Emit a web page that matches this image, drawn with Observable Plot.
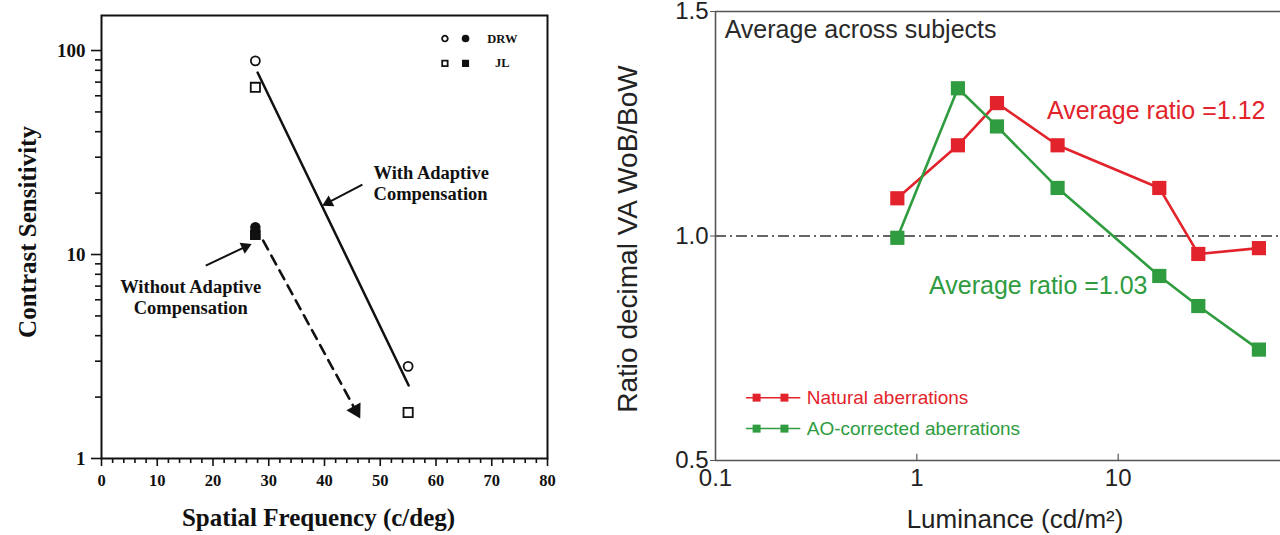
<!DOCTYPE html>
<html><head><meta charset="utf-8">
<script src="https://cdn.jsdelivr.net/npm/d3@7"></script>
<script src="https://cdn.jsdelivr.net/npm/@observablehq/plot@0.6"></script>
<style>
html,body{margin:0;padding:0;background:#fff;}
#wrap{display:flex;width:1280px;height:535px;overflow:hidden;background:#fff;}
#wrap svg{display:block;flex:none;overflow:visible;}
</style></head><body><div id="wrap"></div>
<script>
// ---------- Left panel: contrast sensitivity ----------
const spatialFreqOpen = [27.6, 55];
const drwOpen = [89, 2.83];
const jlOpen = [66, 1.68];
const spatialFreqFilled = [27.6];
const drwFilled = [13.6];
const jlFilled = [12.5];
const withFitX = [28, 55.1];
const withFitY = [78, 2.28];
const withoutFitX = [29, 45.6];
const withoutFitY = [11.7, 1.72];
const withoutHeadAngle = [151];
const withText = ["With Adaptive\nCompensation"];
const withTextX = [48.8];
const withTextY = [22.5];
const withoutText = ["Without Adaptive\nCompensation"];
const withoutTextX = [16.0];
const withoutTextY = [6.2];
const pointerX1 = [46.8, 18.7];
const pointerY1 = [22.0, 8.83];
const pointerX2 = [40.7, 25.8];
const pointerY2 = [18.0, 10.9];
const pointerAngle = [242, 65];
const leftLegendLabels = ["DRW", "JL"];
const leftLegendOpenX = [61.6];
const leftLegendFilledX = [65.3];
const leftLegendTextX = [71.9];
const leftLegendY = [114.5, 86.5];
const leftXTicks = [0, 10, 20, 30, 40, 50, 60, 70, 80];
const leftXMinor = [2,4,6,8,12,14,16,18,22,24,26,28,32,34,36,38,42,44,46,48,52,54,56,58,62,64,66,68,72,74,76,78];
const leftYTicks = [1, 10, 100];
const leftYMinor = [2,3,4,5,6,7,8,9,20,30,40,50,60,70,80,90];

// ---------- Right panel: ratio vs luminance ----------
const luminance = [0.8, 1.6, 2.5, 5.0, 16, 25, 50];
const naturalRatio = [1.084, 1.202, 1.296, 1.202, 1.107, 0.96, 0.973];
const aoRatio = [0.996, 1.329, 1.244, 1.107, 0.911, 0.844, 0.747];
const rightXTicks = [0.1, 1, 10];
const rightYTicks = [0.5, 1.0, 1.5];
const seriesNames = ["Natural aberrations", "AO-corrected aberrations"];
const avgText = ["Average ratio =1.12", "Average ratio =1.03"];
const avgX = [4.43, 1.15];
const avgY = [1.278, 0.889];
const titleText = ["Average across subjects"];
const titleX = [0.111];
const titleY = [1.458];
const legendLineX = [0.1426, 0.262];
const legendDotX = [0.16, 0.22];
const legendTextX = [0.284];
const legendRowY = [0.64, 0.571];

const RED = "#e2232b";
const GREEN = "#2e9c3f";
const INK = "#111";

const serif = "'Liberation Serif', 'DejaVu Serif', serif";
const sans = "'Liberation Sans', Arial, sans-serif";

const left = Plot.plot({
  width: 580, height: 535,
  marginLeft: 101, marginRight: 33, marginTop: 15, marginBottom: 77,
  style: {fontFamily: serif, fontWeight: "bold", fontSize: "16px", color: INK, background: "#fff"},
  x: {domain: [0, 80]},
  y: {type: "log", domain: [1, 148.5]},
  marks: [
    Plot.axisX({ticks: leftXMinor, tickSize: 5, tickFormat: () => "", strokeWidth: 1.6, label: null}),
    Plot.axisX({ticks: leftXTicks, tickSize: 8, tickFormat: () => "", strokeWidth: 1.6, label: null}),
    Plot.axisY({ticks: leftYMinor, tickSize: 6, tickFormat: () => "", strokeWidth: 1.6, label: null}),
    Plot.axisY({ticks: leftYTicks, tickSize: 10, tickFormat: () => "", strokeWidth: 1.6, label: null}),
    // tick labels
    Plot.text(leftXTicks, {x: d => d, frameAnchor: "bottom", lineAnchor: "middle", textAnchor: "middle", dy: 22, text: d => String(d), fontSize: 16.5, fontWeight: "bold", fill: INK}),
    Plot.text(leftYTicks, {y: d => d, frameAnchor: "left", lineAnchor: "middle", textAnchor: "end", dx: -16, text: d => String(d), fontSize: 19, fontWeight: "bold", fill: INK}),
    Plot.frame({stroke: INK, strokeWidth: 2}),
    // fitted lines
    Plot.line(withFitY, {x: withFitX, y: withFitY, stroke: INK, strokeWidth: 2.5}),
    Plot.line(withoutFitY, {x: withoutFitX, y: withoutFitY, stroke: INK, strokeWidth: 2.6, strokeDasharray: "10,7"}),
    Plot.dot(withoutHeadAngle, {x: [withoutFitX[1]], y: [withoutFitY[1]], symbol: "triangle", r: 6, rotate: withoutHeadAngle, fill: INK, stroke: "none"}),
    // data points
    Plot.dot(drwOpen, {x: spatialFreqOpen, y: drwOpen, r: 4.5, symbol: "circle", stroke: INK, strokeWidth: 1.8, fill: "#fff"}),
    Plot.dot(jlOpen, {x: spatialFreqOpen, y: jlOpen, r: 5.2, symbol: "square", stroke: INK, strokeWidth: 1.8, fill: "#fff"}),
    Plot.dot(jlFilled, {x: spatialFreqFilled, y: jlFilled, r: 5.2, symbol: "square", fill: INK, stroke: INK}),
    Plot.dot(drwFilled, {x: spatialFreqFilled, y: drwFilled, r: 4.5, symbol: "circle", fill: INK, stroke: INK}),
    // annotations
    Plot.link(pointerX1, {x1: pointerX1, y1: pointerY1, x2: pointerX2, y2: pointerY2, stroke: INK, strokeWidth: 2}),
    Plot.dot(pointerAngle, {x: pointerX2, y: pointerY2, symbol: "triangle", r: 4.5, rotate: pointerAngle, fill: INK, stroke: "none"}),
    Plot.text(withText, {x: withTextX, y: withTextY, text: d => d, textAnchor: "start", fontSize: 18.5, fontWeight: "bold", fill: INK, lineHeight: 1.15}),
    Plot.text(withoutText, {x: withoutTextX, y: withoutTextY, text: d => d, textAnchor: "middle", fontSize: 18.5, fontWeight: "bold", fill: INK, lineHeight: 1.15}),
    // legend
    Plot.dot(leftLegendY, {x: () => leftLegendOpenX[0], y: leftLegendY, symbol: (d, i) => i === 0 ? "circle" : "square", r: (d, i) => i === 0 ? 4.3 : 5, stroke: INK, strokeWidth: 1.8, fill: "#fff"}),
    Plot.dot(leftLegendY, {x: () => leftLegendFilledX[0], y: leftLegendY, symbol: (d, i) => i === 0 ? "circle" : "square", r: (d, i) => i === 0 ? 5 : 5.2, fill: INK, stroke: INK}),
    Plot.text(leftLegendLabels, {x: () => leftLegendTextX[0], y: (d, i) => leftLegendY[i], text: d => d, fontSize: 12.5, fontWeight: "bold", fill: INK}),
    // axis titles
    Plot.text(["Contrast Sensitivity"], {frameAnchor: "left", textAnchor: "middle", lineAnchor: "middle", dx: -74, dy: -5, rotate: -90, fontSize: 25, fontWeight: "bold", fill: INK}),
    Plot.text(["Spatial Frequency (c/deg)"], {frameAnchor: "bottom", textAnchor: "middle", lineAnchor: "middle", dx: -6, dy: 59, fontSize: 25, fontWeight: "bold", fill: INK})
  ]
});

const rightSeries = [
  ...luminance.map((x, i) => ({series: seriesNames[0], x, y: naturalRatio[i]})),
  ...luminance.map((x, i) => ({series: seriesNames[1], x, y: aoRatio[i]}))
];
const colorOf = s => s === seriesNames[0] ? RED : GREEN;

const right = Plot.plot({
  width: 700, height: 535,
  marginLeft: 135, marginRight: 0, marginTop: 11, marginBottom: 75,
  style: {fontFamily: sans, fontSize: "24px", color: "#222", background: "#fff"},
  x: {type: "log", domain: [0.1, 64]},
  y: {domain: [0.5, 1.5]},
  marks: [
    Plot.ruleY([1], {stroke: "#333", strokeWidth: 1.3, strokeDasharray: "11,4,2,4"}),
    Plot.ruleY([0.5, 1.5], {stroke: "#555", strokeWidth: 1.6}),
    Plot.ruleX([0.1], {stroke: "#555", strokeWidth: 1.6}),
    Plot.ruleX([1, 10], {y1: 0.5, y2: 0.514, stroke: "#555", strokeWidth: 1.2}),
    Plot.axisX({ticks: rightXTicks, tickSize: 0, tickPadding: 8, tickFormat: d => String(d), label: null}),
    Plot.axisY({ticks: rightYTicks, tickSize: 5, tickPadding: 2, tickFormat: d3.format(".1f"), label: null, stroke: "#555"}),
    Plot.line(rightSeries, {x: "x", y: "y", z: "series", stroke: d => colorOf(d.series), strokeWidth: 2.6}),
    Plot.dot(rightSeries, {x: "x", y: "y", symbol: "square", r: 8, fill: d => colorOf(d.series), stroke: "none"}),
    Plot.text(titleText, {x: titleX, y: titleY, text: d => d, textAnchor: "start", fontSize: 25, fill: "#2a2a2a"}),
    Plot.text(avgText, {x: avgX, y: avgY, text: d => d, textAnchor: "start", fontSize: 25, fill: (d, i) => i === 0 ? RED : GREEN}),
    // legend
    Plot.line(legendLineX, {x: legendLineX, y: () => legendRowY[0], stroke: RED, strokeWidth: 1.5}),
    Plot.line(legendLineX, {x: legendLineX, y: () => legendRowY[1], stroke: GREEN, strokeWidth: 1.5}),
    Plot.dot(legendDotX, {x: legendDotX, y: () => legendRowY[0], symbol: "square", r: 4.5, fill: RED}),
    Plot.dot(legendDotX, {x: legendDotX, y: () => legendRowY[1], symbol: "square", r: 4.5, fill: GREEN}),
    Plot.text(seriesNames, {x: () => legendTextX[0], y: (d, i) => legendRowY[i], text: d => d, textAnchor: "start", fontSize: 19, fill: (d, i) => i === 0 ? RED : GREEN}),
    // axis titles
    Plot.text(["Ratio decimal VA WoB/BoW"], {frameAnchor: "left", textAnchor: "middle", lineAnchor: "middle", dx: -87, dy: 3, rotate: -90, fontSize: 28, fill: "#222"}),
    Plot.text(["Luminance (cd/m²)"], {frameAnchor: "bottom", textAnchor: "middle", lineAnchor: "middle", dx: 17, dy: 59, fontSize: 26, fill: "#222"})
  ]
});

const wrap = document.getElementById("wrap");
wrap.appendChild(left);
wrap.appendChild(right);
</script>
</body></html>
